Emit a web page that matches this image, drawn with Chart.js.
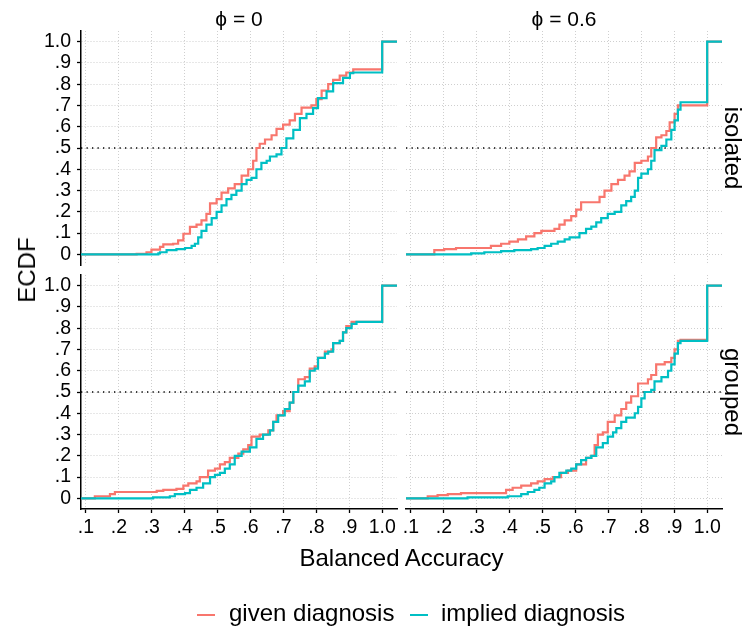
<!DOCTYPE html>
<html>
<head>
<meta charset="utf-8">
<script src="https://cdn.jsdelivr.net/npm/chart.js@4.4.0/dist/chart.umd.min.js"></script>
<style>
  body { margin: 0; background: #fff; }
  #wrap { position: relative; width: 742px; height: 632px; font-family: "Liberation Sans", Arial, sans-serif; color: #000; }
  #wrap canvas { position: absolute; left: 0; top: 0; }
  .lbl { position: absolute; white-space: nowrap; line-height: 1; transform: translate(-50%, -50%); }
  .r90 { transform: translate(-50%, -50%) rotate(90deg); }
  .rm90 { transform: translate(-50%, -50%) rotate(-90deg); }
  .key { position: absolute; height: 2px; width: 18px; }
</style>
</head>
<body>
<div id="wrap">
  <canvas id="tl" width="742" height="632"></canvas>
  <canvas id="tr" width="742" height="632"></canvas>
  <canvas id="bl" width="742" height="632"></canvas>
  <canvas id="br" width="742" height="632"></canvas>
  <div id="labels"></div>
</div>
<script>
// tick values / labels
const xTicks = [0.1, 0.2, 0.3, 0.4, 0.5, 0.6, 0.7, 0.8, 0.9, 1.0];
const xTickLabels = ['.1', '.2', '.3', '.4', '.5', '.6', '.7', '.8', '.9', '1.0'];
const yTicks = [0, 0.1, 0.2, 0.3, 0.4, 0.5, 0.6, 0.7, 0.8, 0.9, 1.0];
const yTickLabels = ['0', '.1', '.2', '.3', '.4', '.5', '.6', '.7', '.8', '.9', '1.0'];
const phiLabels = ['ϕ = 0', 'ϕ = 0.6'];
const groupLabels = ['isolated', 'grouped'];
const seriesNames = ['given diagnosis', 'implied diagnosis'];
const refLine = 0.5;

// ECDF steps: x = balanced accuracy where the curve steps, y = level after the step
// isolated, phi = 0
const isoP0GivenX = [0.254, 0.284, 0.299, 0.325, 0.335, 0.365, 0.38, 0.396, 0.416, 0.436, 0.451, 0.466, 0.477, 0.497, 0.512, 0.532, 0.552, 0.573, 0.593, 0.608, 0.618, 0.628, 0.644, 0.664, 0.679, 0.699, 0.719, 0.735, 0.755, 0.785, 0.8, 0.816, 0.836, 0.851, 0.871, 0.891, 0.912, 1.0];
const isoP0GivenY = [0.003, 0.01, 0.022, 0.035, 0.047, 0.05, 0.066, 0.097, 0.129, 0.14, 0.16, 0.19, 0.24, 0.26, 0.29, 0.31, 0.33, 0.37, 0.40, 0.44, 0.50, 0.52, 0.54, 0.56, 0.59, 0.61, 0.63, 0.66, 0.69, 0.70, 0.73, 0.77, 0.80, 0.82, 0.84, 0.855, 0.87, 1.0];
const isoP0ImpliedX = [0.32, 0.325, 0.345, 0.375, 0.401, 0.421, 0.431, 0.441, 0.451, 0.466, 0.482, 0.497, 0.512, 0.527, 0.542, 0.557, 0.573, 0.588, 0.603, 0.618, 0.633, 0.649, 0.659, 0.679, 0.694, 0.709, 0.73, 0.75, 0.77, 0.79, 0.805, 0.831, 0.851, 0.881, 0.902, 0.912, 1.0];
const isoP0ImpliedY = [0.005, 0.01, 0.02, 0.025, 0.03, 0.04, 0.05, 0.08, 0.11, 0.14, 0.17, 0.2, 0.23, 0.26, 0.28, 0.3, 0.33, 0.35, 0.36, 0.4, 0.43, 0.44, 0.46, 0.47, 0.5, 0.545, 0.585, 0.64, 0.66, 0.687, 0.734, 0.766, 0.805, 0.83, 0.852, 0.855, 1.0];
// isolated, phi = 0.6
const isoP6GivenX = [0.171, 0.201, 0.237, 0.343, 0.374, 0.399, 0.425, 0.45, 0.475, 0.496, 0.536, 0.551, 0.567, 0.587, 0.602, 0.617, 0.673, 0.688, 0.709, 0.729, 0.749, 0.764, 0.78, 0.8, 0.82, 0.83, 0.845, 0.861, 0.876, 0.886, 0.901, 0.911, 1.0];
const isoP6GivenY = [0.02, 0.025, 0.03, 0.04, 0.05, 0.06, 0.07, 0.085, 0.1, 0.11, 0.12, 0.14, 0.16, 0.18, 0.21, 0.245, 0.27, 0.3, 0.33, 0.35, 0.37, 0.39, 0.43, 0.44, 0.46, 0.5, 0.55, 0.56, 0.58, 0.62, 0.66, 0.70, 1.0];
const isoP6ImpliedX = [0.283, 0.323, 0.374, 0.414, 0.465, 0.485, 0.506, 0.526, 0.546, 0.567, 0.582, 0.612, 0.632, 0.648, 0.663, 0.678, 0.698, 0.719, 0.739, 0.754, 0.769, 0.78, 0.79, 0.8, 0.82, 0.83, 0.84, 0.861, 0.876, 0.891, 0.901, 0.911, 0.919, 1.0];
const isoP6ImpliedY = [0.005, 0.01, 0.015, 0.02, 0.025, 0.03, 0.04, 0.05, 0.06, 0.07, 0.08, 0.1, 0.12, 0.13, 0.15, 0.17, 0.19, 0.2, 0.23, 0.25, 0.27, 0.3, 0.36, 0.38, 0.40, 0.44, 0.49, 0.51, 0.54, 0.585, 0.63, 0.68, 0.715, 1.0];
// grouped, phi = 0
const grpP0GivenX = [0.127, 0.173, 0.188, 0.315, 0.335, 0.375, 0.396, 0.411, 0.436, 0.446, 0.471, 0.492, 0.507, 0.522, 0.537, 0.563, 0.578, 0.593, 0.603, 0.628, 0.654, 0.669, 0.679, 0.699, 0.719, 0.73, 0.745, 0.765, 0.78, 0.795, 0.805, 0.826, 0.846, 0.851, 0.871, 0.881, 0.891, 0.907, 1.0];
const grpP0GivenY = [0.01, 0.02, 0.03, 0.035, 0.04, 0.045, 0.06, 0.07, 0.08, 0.1, 0.13, 0.14, 0.16, 0.17, 0.19, 0.21, 0.23, 0.25, 0.29, 0.3, 0.32, 0.36, 0.39, 0.41, 0.45, 0.5, 0.56, 0.57, 0.61, 0.62, 0.66, 0.69, 0.7, 0.73, 0.74, 0.78, 0.81, 0.83, 1.0];
const grpP0ImpliedX = [0.304, 0.355, 0.37, 0.401, 0.416, 0.436, 0.456, 0.477, 0.492, 0.507, 0.522, 0.537, 0.552, 0.573, 0.598, 0.618, 0.638, 0.659, 0.669, 0.684, 0.704, 0.719, 0.73, 0.745, 0.765, 0.78, 0.795, 0.805, 0.826, 0.836, 0.851, 0.871, 0.881, 0.891, 0.907, 0.922, 1.0];
const grpP0ImpliedY = [0.005, 0.01, 0.02, 0.025, 0.04, 0.05, 0.07, 0.1, 0.11, 0.12, 0.14, 0.16, 0.2, 0.22, 0.24, 0.28, 0.3, 0.32, 0.36, 0.39, 0.42, 0.45, 0.5, 0.53, 0.55, 0.6, 0.61, 0.66, 0.68, 0.69, 0.73, 0.74, 0.78, 0.8, 0.82, 0.83, 1.0];
// grouped, phi = 0.6
const grpP6GivenX = [0.151, 0.181, 0.212, 0.252, 0.389, 0.409, 0.435, 0.465, 0.485, 0.506, 0.531, 0.556, 0.577, 0.602, 0.632, 0.648, 0.658, 0.668, 0.683, 0.698, 0.719, 0.739, 0.754, 0.769, 0.79, 0.82, 0.83, 0.845, 0.871, 0.891, 0.901, 0.911, 0.919, 1.0];
const grpP6GivenY = [0.01, 0.015, 0.02, 0.025, 0.04, 0.05, 0.06, 0.07, 0.08, 0.09, 0.1, 0.12, 0.13, 0.16, 0.19, 0.2, 0.25, 0.3, 0.31, 0.36, 0.39, 0.42, 0.45, 0.48, 0.54, 0.56, 0.58, 0.63, 0.64, 0.66, 0.7, 0.74, 0.745, 1.0];
const grpP6ImpliedX = [0.272, 0.394, 0.435, 0.455, 0.475, 0.49, 0.506, 0.526, 0.536, 0.551, 0.572, 0.587, 0.602, 0.617, 0.632, 0.648, 0.663, 0.683, 0.698, 0.714, 0.724, 0.739, 0.754, 0.78, 0.79, 0.8, 0.81, 0.83, 0.84, 0.861, 0.881, 0.891, 0.901, 0.911, 0.919, 1.0];
const grpP6ImpliedY = [0.005, 0.01, 0.02, 0.03, 0.04, 0.05, 0.07, 0.08, 0.1, 0.12, 0.13, 0.14, 0.16, 0.18, 0.19, 0.2, 0.24, 0.26, 0.29, 0.31, 0.33, 0.36, 0.38, 0.40, 0.43, 0.47, 0.5, 0.51, 0.55, 0.57, 0.6, 0.63, 0.68, 0.73, 0.74, 1.0];

const xMin = 0.085, xMax = 1.045;
const yMin = -0.05, yMax = 1.05;
const RED = '#F8766D', TEAL = '#00BFC4';
const GRID = '#cfcfcf';
const W = 742, H = 632;
const FONT = '"Liberation Sans", Arial, sans-serif';

// ECDF padded to the panel edges like stat_ecdf
function steps(xs, ys) {
    let pts = [{ x: xMin, y: 0 }];
    xs.forEach((x, i) => pts.push({ x: x, y: ys[i] }));
    pts.push({ x: xMax, y: ys[ys.length - 1] });
    return pts;
}

function panel(id, box, gx, gy, ix, iy, showY, showX) {
    new Chart(document.getElementById(id), {
        type: 'line',
        data: {
            datasets: [
                { label: 'half', data: [{ x: xMin, y: refLine }, { x: xMax, y: refLine }],
                  borderColor: '#000', borderWidth: 1.3, borderDash: [1.3, 4.2], pointRadius: 0, order: 3 },
                { label: seriesNames[0], data: steps(gx, gy), borderColor: RED, borderWidth: 2.2,
                  stepped: true, pointRadius: 0, order: 2 },
                { label: seriesNames[1], data: steps(ix, iy), borderColor: TEAL, borderWidth: 2.2,
                  stepped: true, pointRadius: 0, order: 1 }
            ]
        },
        options: {
            responsive: false,
            animation: false,
            layout: { padding: { left: 0, top: box.t, right: W - box.r, bottom: 0 } },
            plugins: { legend: { display: false }, tooltip: { enabled: false } },
            scales: {
                x: {
                    type: 'linear', min: xMin, max: xMax,
                    afterFit: s => { s.height = H - box.b; },
                    afterBuildTicks: s => { s.ticks = xTicks.map(v => ({ value: v })); },
                    ticks: { display: showX, autoSkip: false, maxRotation: 0, padding: 3, color: '#000',
                             font: { family: FONT, size: 19.5 }, callback: (v, i) => xTickLabels[i] },
                    grid: { color: GRID, lineWidth: 1, drawTicks: showX, tickLength: 4, tickColor: '#000',
                            tickWidth: 1.3, tickBorderDash: [] },
                    border: { display: showX, color: '#000', width: 1.5, dash: [1, 2] }
                },
                y: {
                    type: 'linear', min: yMin, max: yMax,
                    afterFit: s => { s.width = box.l; },
                    afterBuildTicks: s => { s.ticks = yTicks.map(v => ({ value: v })); },
                    ticks: { display: showY, autoSkip: false, padding: 6, color: '#000',
                             font: { family: FONT, size: 19.5 }, callback: (v, i) => yTickLabels[i] },
                    grid: { color: GRID, lineWidth: 1, drawTicks: showY, tickLength: 4, tickColor: '#000',
                            tickWidth: 1.3, tickBorderDash: [] },
                    border: { display: showY, color: '#000', width: 1.5, dash: [1, 2] }
                }
            }
        }
    });
}

const boxTL = { l: 81, r: 397, t: 31, b: 265 };
const boxTR = { l: 406, r: 722, t: 31, b: 265 };
const boxBL = { l: 81, r: 397, t: 275, b: 509 };
const boxBR = { l: 406, r: 722, t: 275, b: 509 };

panel('tl', boxTL, isoP0GivenX, isoP0GivenY, isoP0ImpliedX, isoP0ImpliedY, true, false);
panel('tr', boxTR, isoP6GivenX, isoP6GivenY, isoP6ImpliedX, isoP6ImpliedY, false, false);
panel('bl', boxBL, grpP0GivenX, grpP0GivenY, grpP0ImpliedX, grpP0ImpliedY, true, true);
panel('br', boxBR, grpP6GivenX, grpP6GivenY, grpP6ImpliedX, grpP6ImpliedY, false, true);

// strips, axis titles, legend
function label(text, x, y, size, cls) {
    return `<div class="lbl ${cls || ''}" style="left:${x}px;top:${y}px;font-size:${size}px">${text}</div>`;
}
let html = '';
html += label(phiLabels[0], (boxTL.l + boxTL.r) / 2, 18, 21);
html += label(phiLabels[1], (boxTR.l + boxTR.r) / 2, 18, 21);
html += label(groupLabels[0], 733, (boxTR.t + boxTR.b) / 2, 24, 'r90');
html += label(groupLabels[1], 733, (boxBR.t + boxBR.b) / 2, 24, 'r90');
html += label('ECDF', 27, (boxTL.t + boxBL.b) / 2, 24, 'rm90');
html += label('Balanced Accuracy', (boxBL.l + boxBR.r) / 2, 558, 24);
html += `<div class="key" style="left:197px;top:614px;background:${RED}"></div>`;
html += `<div class="lbl" style="left:229px;top:613px;font-size:24px;transform:translate(0,-50%)">${seriesNames[0]}</div>`;
html += `<div class="key" style="left:410px;top:614px;background:${TEAL}"></div>`;
html += `<div class="lbl" style="left:441px;top:613px;font-size:24px;transform:translate(0,-50%)">${seriesNames[1]}</div>`;
document.getElementById('labels').innerHTML = html;
</script>
</body>
</html>
